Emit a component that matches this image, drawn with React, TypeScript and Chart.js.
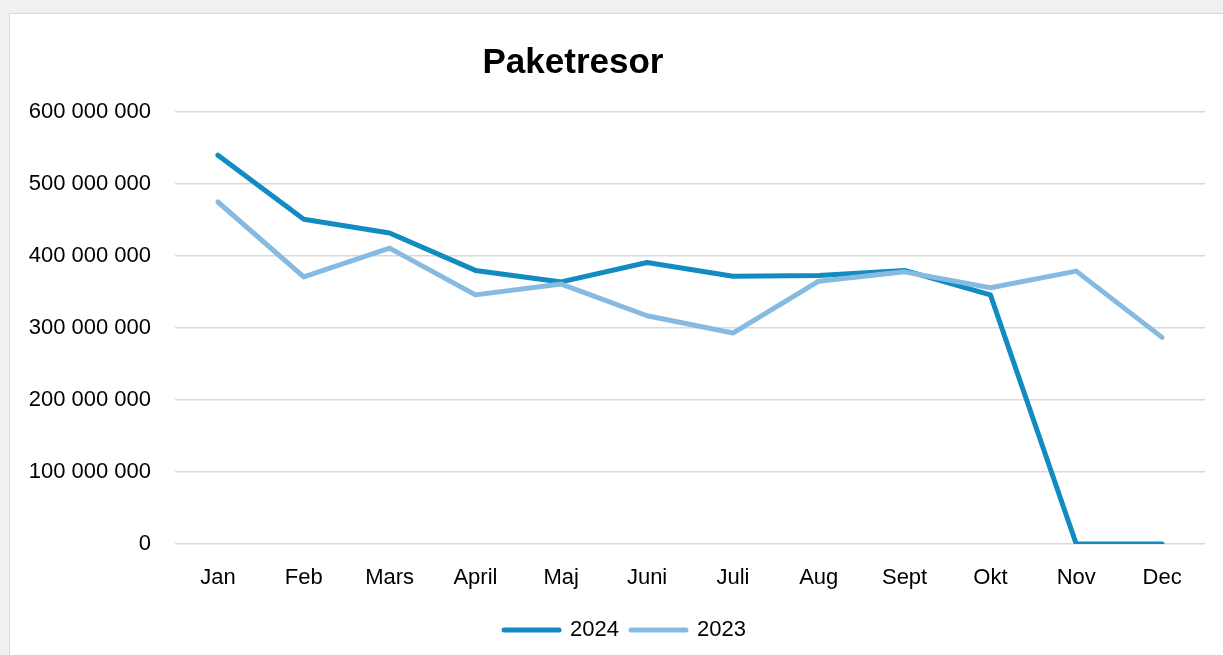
import React, { useEffect, useRef } from "react";
import { Chart, registerables } from "chart.js";

Chart.register(...registerables);

const months = ["Jan", "Feb", "Mars", "April", "Maj", "Juni", "Juli", "Aug", "Sept", "Okt", "Nov", "Dec"];
const values2024 = [540000000, 451000000, 432000000, 380000000, 364000000, 391000000, 372000000, 373000000, 380000000, 346000000, 0, 0];
const values2023 = [475000000, 371000000, 411000000, 346000000, 361000000, 317000000, 293000000, 365000000, 378000000, 356000000, 379000000, 287000000];
const chartTitle = "Paketresor";

const FONT = "'Liberation Sans', Arial, sans-serif";

const titlePlugin = {
  id: "fixedTitle",
  afterLayout(chart: any) {
    const l = chart.legend;
    if (l) {
      const shift = 625 - (l.left + l.right) / 2;
      l.left += shift;
      l.right += shift;
    }
  },
  afterDraw(chart: any) {
    const ctx = chart.ctx;
    ctx.save();
    ctx.font = `bold 35px ${FONT}`;
    ctx.fillStyle = "#000000";
    ctx.textAlign = "center";
    ctx.textBaseline = "middle";
    ctx.fillText(chartTitle, 573, 63);
    ctx.restore();
  },
};

function fmt(v: number) {
  return String(Math.round(v)).replace(/\B(?=(\d{3})+(?!\d))/g, " ");
}

export default function App() {
  const ref = useRef<HTMLCanvasElement>(null);
  useEffect(() => {
    if (!ref.current) return;
    const chart = new Chart(ref.current, {
      type: "line",
      data: {
        labels: months,
        datasets: [
          {
            label: "2024",
            data: values2024,
            borderColor: "#118BC0",
            backgroundColor: "#118BC0",
            borderWidth: 5,
            borderCapStyle: "round",
            borderJoinStyle: "round",
            pointRadius: 0,
            tension: 0,
            order: 1,
          },
          {
            label: "2023",
            data: values2023,
            borderColor: "#86BAE1",
            backgroundColor: "#86BAE1",
            borderWidth: 5,
            borderCapStyle: "round",
            borderJoinStyle: "round",
            pointRadius: 0,
            tension: 0,
            order: 0,
          },
        ],
      },
      options: {
        animation: false,
        responsive: false,
        maintainAspectRatio: false,
        layout: { padding: { left: 0, right: 18, top: 112, bottom: 4 } },
        plugins: {
          title: { display: false },
          tooltip: { enabled: false },
          legend: {
            position: "bottom",
            labels: {
              usePointStyle: true,
              pointStyle: "line",
              pointStyleWidth: 55,
              color: "#000000",
              font: { family: FONT, size: 22 },
              padding: 12,
              sort: (a: any, b: any) => a.datasetIndex - b.datasetIndex,
              generateLabels: (c: any) =>
                c.data.datasets.map((d: any, i: number) => ({
                  text: d.label,
                  strokeStyle: d.borderColor,
                  fillStyle: d.borderColor,
                  lineWidth: 5,
                  lineCap: "round",
                  pointStyle: "line",
                  datasetIndex: i,
                  hidden: false,
                  fontColor: "#000000",
                })),
            },
          },
        },
        scales: {
          x: {
            offset: true,
            grid: { display: false, drawTicks: false },
            border: { display: false },
            ticks: { color: "#000000", font: { family: FONT, size: 22 }, padding: 21, maxRotation: 0 },
            afterFit: (s: any) => {
              s.height = 63;
            },
          },
          y: {
            min: 0,
            max: 600000000,
            grid: { color: "#d9d9d9", lineWidth: 1.5, drawTicks: false },
            border: { display: false },
            ticks: {
              stepSize: 100000000,
              color: "#000000",
              font: { family: FONT, size: 22 },
              padding: 24,
              callback: (v: any) => fmt(Number(v)),
            },
            afterFit: (s: any) => {
              s.width = 175;
            },
          },
        },
      },
      plugins: [titlePlugin],
    });
    return () => chart.destroy();
  }, []);

  return (
    <div style={{ position: "fixed", left: 0, top: 0, width: 1223, height: 655, background: "#f0f0f0", overflow: "hidden" }}>
      <div
        style={{
          position: "absolute",
          left: 9,
          top: 13,
          width: 1240,
          height: 700,
          background: "#ffffff",
          border: "1.5px solid #d9d9d9",
        }}
      />
      <canvas ref={ref} width={1223} height={655} style={{ position: "absolute", left: 0, top: 0, width: 1223, height: 655 }} />
    </div>
  );
}
